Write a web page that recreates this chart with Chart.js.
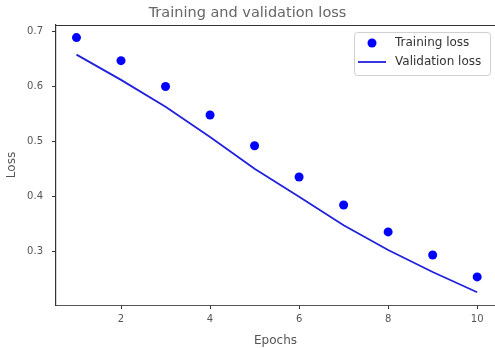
<!DOCTYPE html>
<html><head><meta charset="utf-8">
<script src="https://cdn.jsdelivr.net/npm/chart.js@4"></script>
<style>html,body{margin:0;padding:0;background:#fff}#w{width:495px;height:348px}</style>
</head><body><div id="w"><canvas id="c"></canvas></div>
<script>
const epochs = [1,2,3,4,5,6,7,8,9,10];
const trainingLoss = [0.689,0.647,0.600,0.548,0.492,0.435,0.384,0.335,0.293,0.253];
const validationLoss = [0.658,0.612,0.563,0.508,0.450,0.399,0.347,0.302,0.262,0.225];
const xTicks = [2,4,6,8,10];
const yTicks = [0.3,0.4,0.5,0.6,0.7];
const FONT = "'DejaVu Sans', sans-serif";
const TXT = '#555';

const framePlugin = {
  id: 'frame',
  afterDraw(chart) {
    const {ctx, chartArea: a} = chart;
    ctx.save();
    ctx.strokeStyle = '#333'; ctx.lineWidth = 1;
    ctx.beginPath(); ctx.moveTo(a.left, a.top + 0.5); ctx.lineTo(a.right, a.top + 0.5); ctx.stroke();
    // legend
    const bx = 354, by = 32, bw = 136, bh = 43;
    ctx.fillStyle = 'rgba(255,255,255,0.8)';
    ctx.strokeStyle = '#d0d0d0';
    ctx.beginPath(); ctx.roundRect(bx + 0.5, by + 0.5, bw, bh, 3); ctx.fill(); ctx.stroke();
    const ds = chart.data.datasets;
    ctx.fillStyle = '#0000ff';
    ctx.beginPath(); ctx.arc(372, 43, 4.5, 0, Math.PI * 2); ctx.fill();
    ctx.strokeStyle = '#2020dd'; ctx.lineWidth = 1.8;
    ctx.beginPath(); ctx.moveTo(358, 62); ctx.lineTo(386, 62); ctx.stroke();
    ctx.fillStyle = '#333'; ctx.font = '12px ' + FONT; ctx.textBaseline = 'middle'; ctx.textAlign = 'left';
    ctx.fillText(ds[0].label, 395, 43);
    ctx.fillText(ds[1].label, 395, 62);
    ctx.restore();
  }
};

new Chart(document.getElementById('c'), {
  type: 'line',
  data: {
    datasets: [
      { label: 'Training loss', data: epochs.map((e, i) => ({x: e, y: trainingLoss[i]})),
        showLine: false, pointRadius: 4.5, pointBackgroundColor: '#0000ff', pointBorderWidth: 0, borderColor: '#0000ff' },
      { label: 'Validation loss', data: epochs.map((e, i) => ({x: e, y: validationLoss[i]})),
        borderColor: '#2020dd', borderWidth: 1.8, pointRadius: 0, tension: 0, fill: false }
    ]
  },
  options: {
    responsive: true, maintainAspectRatio: false, animation: false,
    layout: { autoPadding: false, padding: { left: 0, right: 0, top: 0, bottom: 0 } },
    plugins: {
      legend: { display: false }, tooltip: { enabled: false },
      title: { display: true, text: 'Training and validation loss', color: '#666',
        font: { family: FONT, size: 14.5, weight: 'normal' }, padding: { top: 5, bottom: 2.6 } }
    },
    scales: {
      x: { type: 'linear', min: 0.54, max: 10.4,
        afterBuildTicks: s => { s.ticks = xTicks.map(v => ({value: v})); },
        afterFit: s => { s.height = 43; s.paddingLeft = 0; s.paddingRight = 0; },
        grid: { display: true, drawOnChartArea: false, tickLength: 4, color: '#333' },
        border: { display: true, color: '#555', dash: [1, 1.5], width: 1 },
        ticks: { color: TXT, font: { family: FONT, size: 10 }, padding: 4, maxRotation: 0 },
        title: { display: true, text: 'Epochs', color: TXT, font: { family: FONT, size: 12 }, padding: { top: 0, bottom: 0 } }
      },
      y: { type: 'linear', min: 0.2018, max: 0.712,
        afterBuildTicks: s => { s.ticks = yTicks.map(v => ({value: v})); },
        afterFit: s => { s.width = 56; s.paddingTop = 0; s.paddingBottom = 0; },
        grid: { display: true, drawOnChartArea: false, tickLength: 4, color: '#333' },
        border: { display: true, color: '#333', width: 1.2 },
        ticks: { color: TXT, font: { family: FONT, size: 10 }, padding: 9, callback: v => v.toFixed(1) },
        title: { display: true, text: 'Loss', color: TXT, font: { family: FONT, size: 12 }, padding: { top: 5, bottom: 0 } }
      }
    }
  },
  plugins: [framePlugin]
});
</script></body></html>
